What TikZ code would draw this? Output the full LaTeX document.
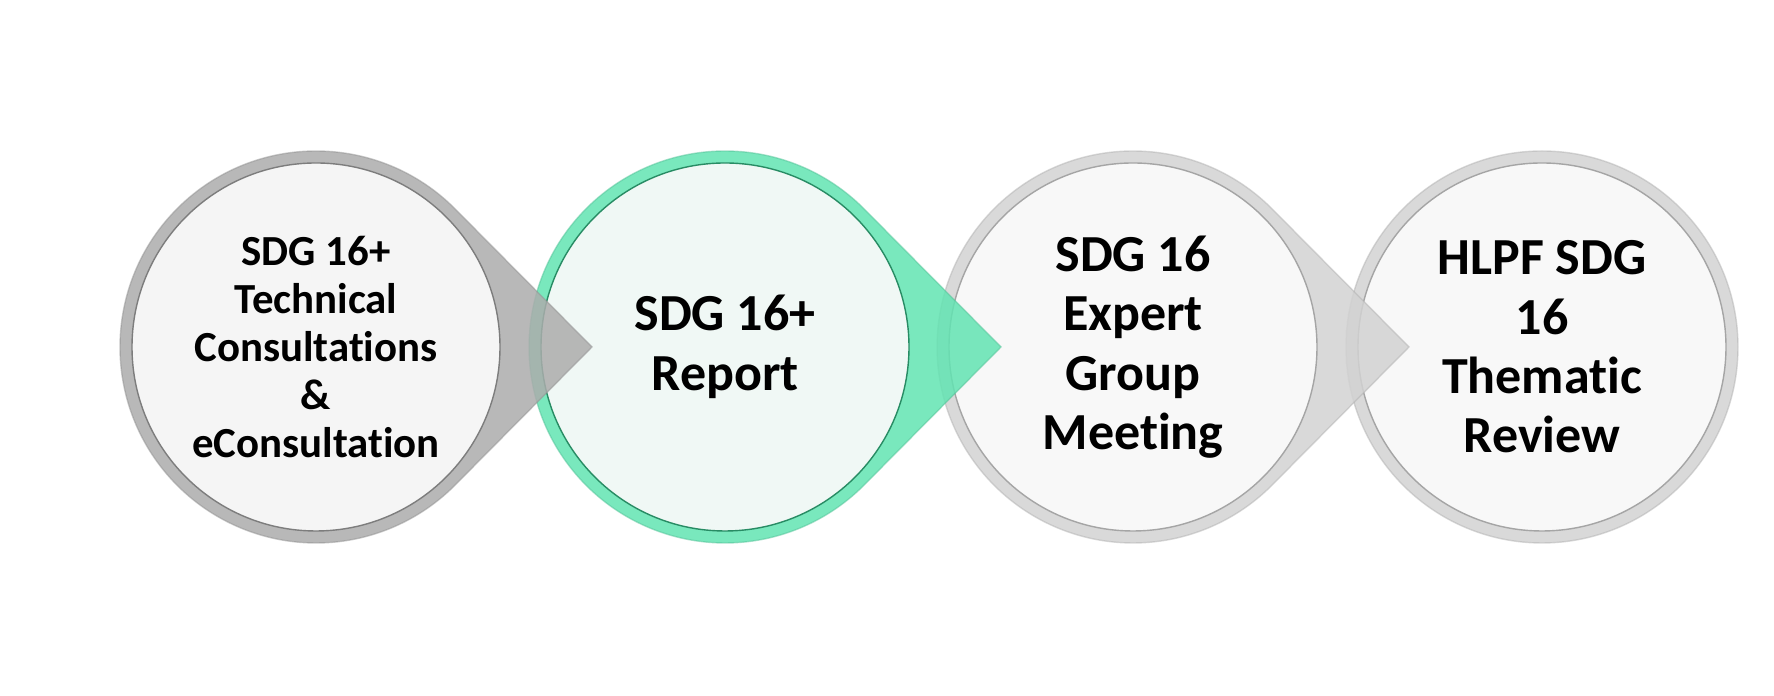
\documentclass[tikz,border=0pt]{standalone}
\usepackage{fontspec}
\setmainfont[Ligatures=NoCommon]{Carlito}
\usetikzlibrary{calc}
\definecolor{ringA}{RGB}{172,172,172}
\definecolor{edgeA}{RGB}{125,125,125}
\definecolor{coreA}{RGB}{245,245,245}
\definecolor{ringB}{RGB}{98,228,178}
\definecolor{edgeB}{RGB}{40,140,100}
\definecolor{coreB}{RGB}{240,248,245}
\definecolor{ringC}{RGB}{210,210,210}
\definecolor{edgeC}{RGB}{165,165,165}
\definecolor{coreC}{RGB}{248,248,248}
\begin{document}
\begin{tikzpicture}[thin,
  every node/.style={align=center, text=black, font=\bfseries\fontsize{14.8}{16.9}\selectfont},
  small/.style={font=\bfseries\fontsize{12.2}{13.7}\selectfont}]
\useasboundingbox (0,0) rectangle (17.74,6.96);
\def\rOut{1.96}
\def\rIn{1.84}
\def\tip{2.76}
\def\ang{44.76}
%
\coordinate (p1) at (3.16,3.49);
\coordinate (p2) at (7.25,3.49);
\coordinate (p3) at (11.33,3.49);
\coordinate (p4) at (15.42,3.49);
% dernier cercle, sans pointe
\filldraw[fill=ringC, draw=ringC!85!black, fill opacity=0.85, draw opacity=0.5] (p4) circle (\rOut);
\draw[edgeC, fill=coreC] (p4) circle (\rIn);
% gouttes, de droite a gauche
\foreach \p/\ring/\edge/\core in {p3/ringC/edgeC/coreC, p2/ringB/edgeB/coreB,
    p1/ringA/edgeA/coreA}{
  \filldraw[fill=\ring, draw=\ring!85!black, fill opacity=0.85, draw opacity=0.5]
    ($(\p)+(\ang:\rOut)$) arc[start angle=\ang, end angle=360-\ang, radius=\rOut]
    -- ($(\p)+(\tip,0)$) -- cycle;
  \draw[\edge, fill=\core] (\p) circle (\rIn);
}
%
% Etiquettes :
\node[small] (cons) at (p1) {SDG 16+\\Technical\\Consultations\\\&\\eConsultation};
\node (report) at (p2) {SDG 16+\\Report};
\node (expert) at (p3) {SDG 16\\Expert\\Group\\Meeting};
\node (hlpf) at (p4) {HLPF SDG\\16\\Thematic\\Review};
\end{tikzpicture}
\end{document}
